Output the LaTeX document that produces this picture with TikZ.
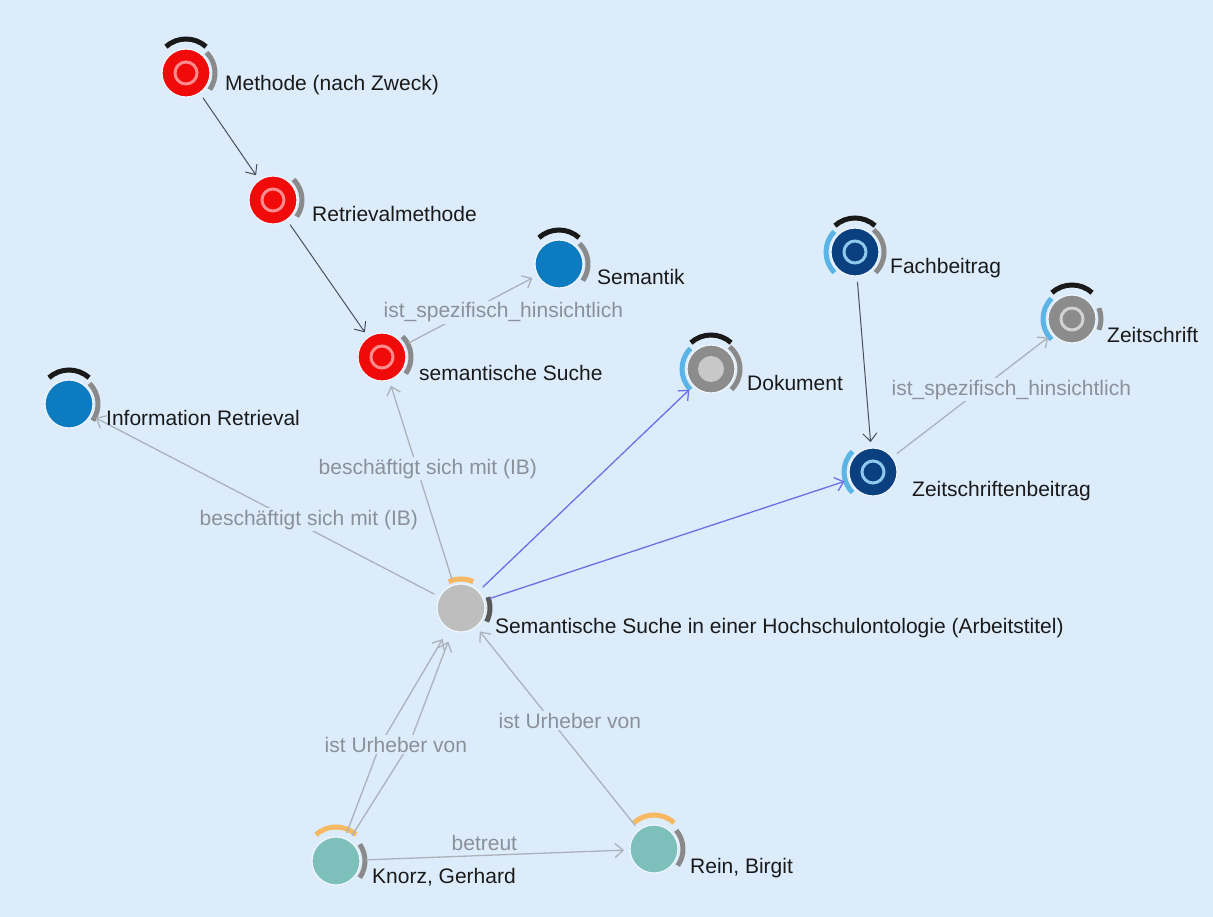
\documentclass[tikz,border=0pt]{standalone}
\usepackage{fontspec}
\setmainfont{Liberation Sans}
\usetikzlibrary{arrows.meta}

\definecolor{bg}{RGB}{221,236,251}
\definecolor{cred}{RGB}{240,10,10}
\definecolor{cblue}{RGB}{12,123,192}
\definecolor{cnavy}{RGB}{10,63,128}
\definecolor{cgray}{RGB}{140,140,140}
\definecolor{cpale}{RGB}{190,190,190}
\definecolor{cteal}{RGB}{125,191,186}
\definecolor{corange}{RGB}{246,184,96}
\definecolor{csky}{RGB}{90,180,230}
\definecolor{arcgrey}{RGB}{138,138,138}
\definecolor{txt}{RGB}{26,26,26}
\definecolor{ltxt}{RGB}{138,144,153}
\definecolor{edgedark}{RGB}{74,79,88}
\definecolor{edgelight}{RGB}{172,177,186}
\definecolor{edgeblue}{RGB}{110,110,230}

% decorative arcs around a concept dot
\newcommand\glyphTop[2]{\draw[#2] ([yshift=4pt]#1.center) ++(48:30) arc[start angle=48, end angle=132, radius=30];}
\newcommand\glyphRight[3]{\draw[arcgrey, line width=5pt] (#1.center) ++(#2:29) arc[start angle=#2, end angle=#3, radius=29];}
\newcommand\glyphLeft[1]{\draw[csky, line width=5pt] (#1.center) ++(135:29) arc[start angle=135, end angle=225, radius=29];}
\newcommand\glyphRing[2]{\draw[#2, line width=3pt] (#1.center) circle[radius=11];}

\begin{document}
\begin{tikzpicture}[x=1pt, y=1pt,
  cdot/.style={circle, minimum size=48pt, inner sep=0pt, draw=white!55!bg, line width=1.2pt, outer sep=6pt},
  cname/.style={anchor=base west, inner sep=0pt, text=txt, font=\fontsize{21}{25}\selectfont},
  rel/.style={anchor=base west, inner sep=1.5pt, fill=bg, text=ltxt, font=\fontsize{21}{25}\selectfont},
  blacktop/.style={draw=black!90, line width=5pt},
  orangetop/.style={draw=corange, line width=5pt},
  arrtip/.style={-{Straight Barb[length=8pt, width=14pt]}},
  hier/.style={arrtip, draw=edgedark, line width=1pt},
  semrel/.style={arrtip, draw=edgelight, line width=1.3pt},
  inst/.style={arrtip, draw=edgeblue, line width=1.3pt}]

\path[fill=bg] (0,0) rectangle (1213,-917);
\useasboundingbox (0,0) rectangle (1213,-917);

% concept dots
\node[cdot, fill=cred]   (meth) at (186,-73)  {};
\node[cdot, fill=cred]   (retr) at (273,-200) {};
\node[cdot, fill=cred]   (sems) at (382,-357) {};
\node[cdot, fill=cblue]  (semk) at (559,-264) {};
\node[cdot, fill=cnavy]  (fach) at (855,-252) {};
\node[cdot, fill=cgray]  (dok)  at (711,-369) {};
\node[cdot, fill=cgray]  (zs)   at (1072,-319) {};
\node[cdot, fill=cnavy]  (zb)   at (873,-472) {};
\node[cdot, fill=cblue]  (ir)   at (69,-404)  {};
\node[cdot, fill=cpale]  (ss)   at (461,-608) {};
\node[cdot, fill=cteal]  (kn)   at (336,-861) {};
\node[cdot, fill=cteal]  (rein) at (654,-849) {};

% inner marks
\glyphRing{meth}{red!45!white}
\glyphRing{retr}{red!45!white}
\glyphRing{sems}{red!45!white}
\glyphRing{fach}{csky!70!white}
\glyphRing{zs}{cpale!70!white}
\glyphRing{zb}{csky!70!white}
\fill[cpale!85!white] (dok.center) circle[radius=13];

% surrounding arcs
\glyphTop{meth}{blacktop}  \glyphRight{meth}{-35}{45}
\glyphRight{retr}{-35}{45}
\glyphRight{sems}{-35}{45}
\glyphTop{semk}{blacktop}  \glyphRight{semk}{-35}{45}
\glyphTop{ir}{blacktop}    \glyphRight{ir}{-35}{45}
\glyphTop{fach}{blacktop}  \glyphRight{fach}{-45}{50}  \glyphLeft{fach}
\glyphTop{dok}{blacktop}   \glyphRight{dok}{-45}{50}   \glyphLeft{dok}
\glyphTop{zs}{blacktop}    \glyphRight{zs}{-22}{22}    \glyphLeft{zs}
\glyphLeft{zb}
\draw[orangetop] (ss.center) ++(65:29) arc[start angle=65, end angle=115, radius=29];
\draw[black!65, line width=5pt] (ss.center) ++(-28:29) arc[start angle=-28, end angle=22, radius=29];
\glyphTop{kn}{orangetop}   \glyphRight{kn}{-35}{35}
\glyphTop{rein}{orangetop} \glyphRight{rein}{-35}{40}

% bend points of the two authorship links
\coordinate (kA) at (380,-745);
\coordinate (kB) at (409,-745);

% relations
\draw[hier] (meth) -- (retr);
\draw[hier] (retr) -- (sems);
\draw[hier] (fach) -- (zb);
\draw[semrel] (sems) -- (semk);
\draw[semrel] (zb) -- (zs);
\draw[semrel] (ss) -- (ir);
\draw[semrel] (ss) -- (sems);
\draw[inst] (ss) -- (dok);
\draw[inst] (ss) -- (zb);
\draw[semrel, shorten >=6pt] (kn) -- (kA) -- (ss);
\draw[semrel, shorten >=6pt] (kn) -- (kB) -- (ss);
\draw[semrel] (rein) -- (ss);
\draw[semrel] (kn) -- (rein);

% relation labels
\node[rel] (l1) at (382,-318) {ist\_spezifisch\_hinsichtlich};
\node[rel] (l2) at (890,-395) {ist\_spezifisch\_hinsichtlich};
\node[rel] (l3) at (198,-525) {beschäftigt sich mit (IB)};
\node[rel] (l4) at (317,-474) {beschäftigt sich mit (IB)};
\node[rel] (l5) at (323,-752) {ist Urheber von};
\node[rel] (l6) at (497,-728) {ist Urheber von};
\node[rel] (l7) at (450,-850) {betreut};

% concept names
\node[cname] (tmeth) at (225,-91)  {Methode (nach Zweck)};
\node[cname] (tretr) at (312,-222) {Retrievalmethode};
\node[cname] (tsems) at (419,-380) {semantische Suche};
\node[cname] (tsemk) at (597,-285) {Semantik};
\node[cname] (tfach) at (890,-274) {Fachbeitrag};
\node[cname] (tdok)  at (747,-390) {Dokument};
\node[cname] (tzs)   at (1107,-343) {Zeitschrift};
\node[cname] (tzb)   at (912,-496) {Zeitschriftenbeitrag};
\node[cname] (tir)   at (106,-425) {Information Retrieval};
\node[cname] (tss)   at (495,-633) {Semantische Suche in einer Hochschulontologie (Arbeitstitel)};
\node[cname] (tkn)   at (372,-883) {Knorz, Gerhard};
\node[cname] (trein) at (690,-873) {Rein, Birgit};
\end{tikzpicture}
\end{document}
